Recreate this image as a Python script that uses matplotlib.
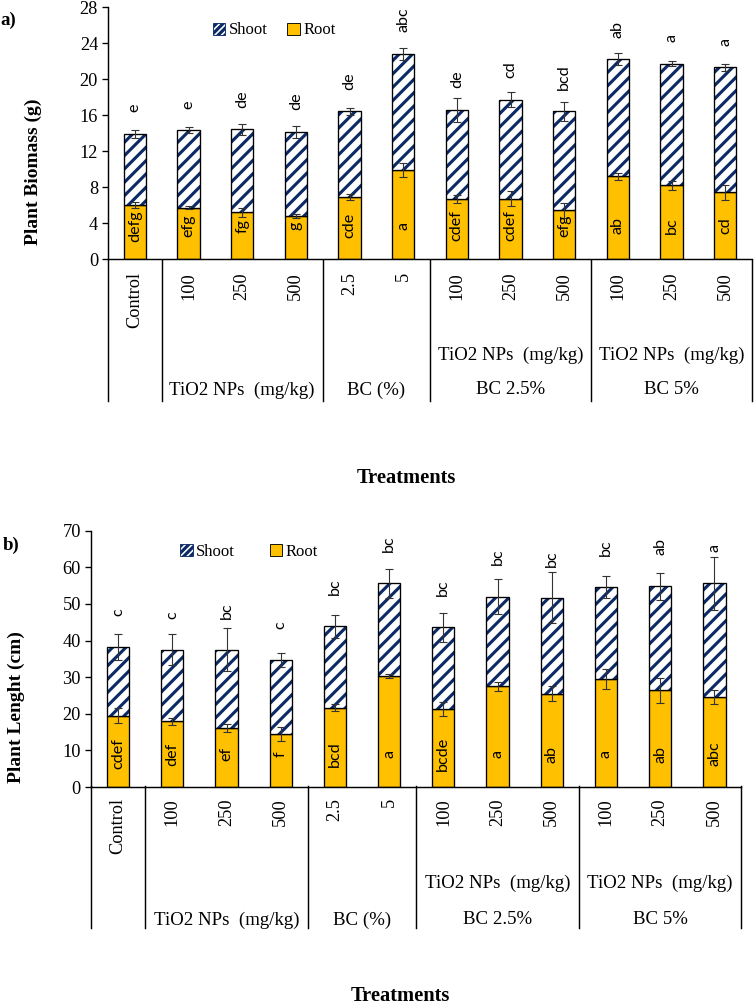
import matplotlib
matplotlib.use("Agg")
import matplotlib.pyplot as plt
import matplotlib.transforms as mtransforms
from matplotlib.patches import Patch
import numpy as np

# ---------------- data ----------------
categories = ["Control", "100", "250", "500", "2.5", "5",
              "100", "250", "500", "100", "250", "500"]
group_sizes = [1, 3, 2, 3, 3]
group_lower = ["", "TiO2 NPs  (mg/kg)", "BC (%)", "BC 2.5%", "BC 5%"]
group_upper = ["", "", "", "TiO2 NPs  (mg/kg)", "TiO2 NPs  (mg/kg)"]

# Panel a) Plant biomass (g)
root_bio = [6.0, 5.7, 5.2, 4.8, 6.9, 9.9, 6.7, 6.7, 5.4, 9.2, 8.2, 7.4]
shoot_bio = [7.9, 8.6, 9.2, 9.3, 9.5, 12.9, 9.9, 11.0, 11.0, 13.0, 13.5, 13.9]
root_err_bio = [0.37, 0.15, 0.5, 0.2, 0.33, 0.78, 0.46, 0.85, 0.83, 0.4, 0.5, 0.83]
shoot_err_bio = [0.4, 0.33, 0.6, 0.65, 0.4, 0.7, 1.33, 0.85, 1.05, 0.67, 0.26, 0.4]
root_let_bio = ["defg", "efg", "fg", "g", "cde", "a", "cdef", "cdef", "efg", "ab", "bc", "cd"]
shoot_let_bio = ["e", "e", "de", "de", "de", "abc", "de", "cd", "bcd", "ab", "a", "a"]

# Panel b) Plant length (cm)
root_len = [19.5, 17.9, 16.0, 14.4, 21.7, 30.3, 21.4, 27.5, 25.5, 29.5, 26.4, 24.7]
shoot_len = [18.7, 19.6, 21.5, 20.2, 22.2, 25.3, 22.2, 24.5, 26.2, 25.1, 28.4, 30.9]
root_err_len = [2.0, 1.05, 1.1, 1.9, 1.0, 0.6, 1.9, 1.2, 2.1, 2.8, 3.5, 1.9]
shoot_err_len = [3.55, 4.3, 5.8, 1.87, 3.2, 3.96, 4.0, 4.7, 7.0, 3.1, 3.6, 7.2]
root_let_len = ["cdef", "def", "ef", "f", "bcd", "a", "bcde", "a", "ab", "a", "ab", "abc"]
shoot_let_len = ["c", "c", "bc", "c", "bc", "bc", "bc", "bc", "bc", "bc", "ab", "a"]

# ---------------- style ----------------
W, H, DPI = 754, 1005, 80
GOLD = "#FFC000"
NAVY = "#0B2A66"
SERIF = "Liberation Serif"
SANS = "Lato"
plt.rcParams["hatch.linewidth"] = 2.8
plt.rcParams["font.family"] = SERIF

fig = plt.figure(figsize=(W / DPI, H / DPI), dpi=DPI)


def fx(px):
    return px / W


def fy(px):
    return 1 - px / H


def panel(rect, root, shoot, root_err, shoot_err, root_let, shoot_let,
          ymax, ystep, ylabel, ylab_xy, plabel, plab_xy, top_off, root_lab_y,
          tick_top, row1, row2, sep_bottom, treat_xy, leg_center, colspace):
    ax = fig.add_axes(rect)
    x = np.arange(len(categories))
    root = np.array(root)
    shoot = np.array(shoot)
    total = root + shoot
    w = 0.41
    ax.bar(x, root, w, color=GOLD, edgecolor="black", linewidth=1.2, zorder=2)
    ax.bar(x, shoot, w, bottom=root, color="white", edgecolor=NAVY,
           hatch="//", linewidth=0, zorder=2)
    ax.bar(x, shoot, w, bottom=root, fill=False, edgecolor="black",
           linewidth=1.2, zorder=3)
    ax.errorbar(x, root, yerr=root_err, fmt="none", ecolor="#333333",
                elinewidth=1.0, capsize=4, capthick=1.0, zorder=4)
    ax.errorbar(x, total, yerr=shoot_err, fmt="none", ecolor="#333333",
                elinewidth=1.0, capsize=4, capthick=1.0, zorder=4)
    for i in range(len(x)):
        ax.text(x[i], total[i] + top_off, shoot_let[i], rotation=90,
                ha="center", va="bottom", fontsize=14.5, family=SANS)
        ax.text(x[i], root_lab_y, root_let[i], rotation=90,
                ha="center", va="center", fontsize=14.5, family=SANS, zorder=5)

    ax.set_xlim(-0.5, len(x) - 0.5)
    ax.set_ylim(0, ymax)
    ax.set_yticks(np.arange(0, ymax + 0.1, ystep))
    ax.tick_params(axis="y", direction="out", length=5, width=1.2,
                   labelsize=16.5, pad=4)
    ax.set_xticks([])
    for s in ["top", "right"]:
        ax.spines[s].set_visible(False)
    for s in ["left", "bottom"]:
        ax.spines[s].set_linewidth(1.3)

    tr = mtransforms.blended_transform_factory(ax.transData, fig.transFigure)
    # category labels
    for i, c in enumerate(categories):
        ax.text(x[i], fy(tick_top), c, rotation=90, ha="center", va="top",
                fontsize=16.5, transform=tr)
    # separators and group labels
    bounds = np.concatenate([[0], np.cumsum(group_sizes)]) - 0.5
    for b in bounds:
        ax.plot([b, b], [fy(tick_top - 12), fy(sep_bottom)], color="black",
                lw=1.3, transform=tr, clip_on=False)
    for g in range(len(group_sizes)):
        cx = (bounds[g] + bounds[g + 1]) / 2
        if group_upper[g]:
            ax.text(cx, fy(row1), group_upper[g], ha="center", va="center",
                    fontsize=17, transform=tr)
        if group_lower[g]:
            ax.text(cx, fy(row2), group_lower[g], ha="center", va="center",
                    fontsize=17, transform=tr)

    fig.text(fx(treat_xy[0]), fy(treat_xy[1]), "Treatments", ha="center",
             va="center", fontsize=18.5, fontweight="bold")
    fig.text(fx(ylab_xy[0]), fy(ylab_xy[1]), ylabel, rotation=90, ha="center",
             va="center", fontsize=17.5, fontweight="bold")
    fig.text(fx(plab_xy[0]), fy(plab_xy[1]), plabel, ha="left", va="center",
             fontsize=17, fontweight="bold")

    handles = [Patch(facecolor="white", edgecolor=NAVY, hatch="////", lw=0.8),
               Patch(facecolor=GOLD, edgecolor="black", lw=0.8)]
    ax.legend(handles, ["Shoot", "Root"], ncol=2, loc="center",
              bbox_to_anchor=leg_center, frameon=False, fontsize=15,
              handlelength=0.75, handleheight=0.75, handletextpad=0.2,
              columnspacing=colspace, borderpad=0)
    return ax


# panel a
panel([fx(108), fy(259), fx(752) - fx(108), fy(7) - fy(259)],
      root_bio, shoot_bio, root_err_bio, shoot_err_bio, root_let_bio, shoot_let_bio,
      28, 4, "Plant Biomass (g)", (33, 172), "a)", (0, 20), 2.4, 3.7,
      272, 355, 390, 401, (406, 478), (0.258, 0.907), 1.2)

# panel b
panel([fx(91), fy(787), fx(741.5) - fx(91), fy(530.7) - fy(787)],
      root_len, shoot_len, root_err_len, shoot_err_len, root_let_len, shoot_let_len,
      70, 10, "Plant Lenght (cm)", (16, 707), "b)", (3, 545), 8.5, 9.0,
      798, 883, 920, 928, (400, 996), (0.243, 0.917), 2.1)

fig.savefig("out.png", dpi=DPI)
